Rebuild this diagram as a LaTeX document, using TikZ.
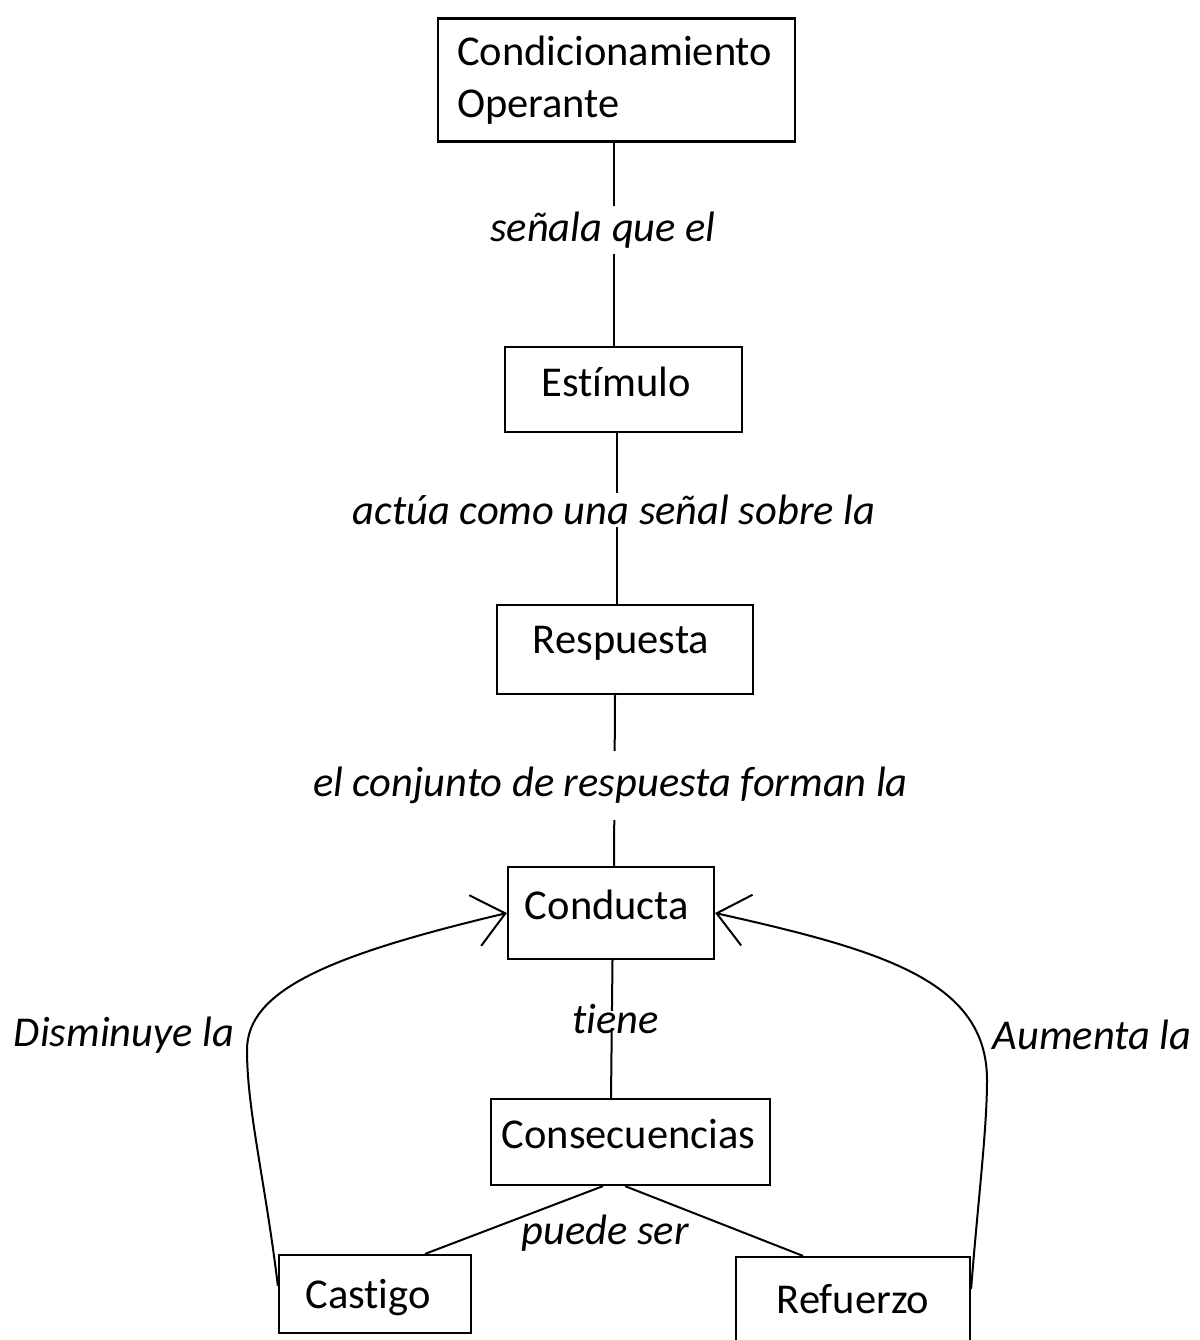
\documentclass[tikz,border=0pt]{standalone}
\usepackage{fontspec}
\setmainfont{Carlito}[Ligatures=NoCommon]
\usetikzlibrary{positioning}
\usetikzlibrary{arrows.meta}

\begin{document}
\begin{tikzpicture}[
  concepto/.style={draw=black, line width=2.2pt, inner sep=0pt},
  simple/.style={concepto, text height=31pt, text depth=18pt},
  etiqueta/.style={font=\itshape, fill=white, inner xsep=1pt, inner ysep=2pt},
  enlace/.style={line width=2pt, color=black},
  flecha/.style={line width=2pt, color=black, -{Straight Barb[length=31pt, width=52pt, line width=2pt]}}
]
\fontsize{42.5pt}{52pt}\selectfont
\useasboundingbox (0pt, 0pt) rectangle (1199pt, -1340pt);
% conceptos
\node (condicionamiento) [concepto, minimum width=357pt, minimum height=123pt, text width=319pt, align=left] at (616.5pt, -80pt) {Condicionamiento\\Operante};
\node (estimulo) [simple, minimum width=237pt, minimum height=85pt] at (623.5pt, -389.5pt) {\hspace*{-14pt}Estímulo};
\node (respuesta) [simple, minimum width=256pt, minimum height=89pt, text height=27pt, text depth=20pt] at (625pt, -649.5pt) {\hspace*{-8pt}Respuesta};
\node (conducta) [simple, minimum width=206pt, minimum height=92pt] at (611pt, -913pt) {\hspace*{-8pt}Conducta};
\node (consecuencias) [simple, minimum width=279pt, minimum height=86pt] at (630.5pt, -1142pt) {\hspace*{-4pt}Consecuencias};
\node (castigo) [simple, minimum width=192pt, minimum height=78pt, text height=40pt, text depth=12pt] at (375pt, -1294pt) {\hspace*{-14pt}Castigo};
\node (refuerzo) [simple, minimum width=234pt, minimum height=88pt, text height=40pt, text depth=16pt] at (853pt, -1301pt) {Refuerzo};
% enlaces
\draw [enlace] ([xshift=-2.5pt]condicionamiento.south) -- node[etiqueta, pos=0.43, xshift=-11pt, inner ysep=6pt] (senala) {señala que el} ([xshift=-9.5pt]estimulo.north);
\draw [enlace] ([xshift=-6.5pt]estimulo.south) -- node[etiqueta, pos=0.45, xshift=-3pt] (actua) {actúa como una señal sobre la} ([xshift=-8pt]respuesta.north);
\draw [enlace] ([xshift=-10pt]respuesta.south) -- node[etiqueta, pos=0.53, xshift=-4pt, inner ysep=16pt] (forman) {el conjunto de respuesta forman la} ([xshift=3pt]conducta.north);
\draw [enlace] ([xshift=1.5pt]conducta.south) -- node[etiqueta, pos=0.43, xshift=4pt, inner ysep=-6pt] (tiene) {tiene} ([xshift=-19.5pt]consecuencias.north);
\draw [enlace] ([xshift=-27.5pt]consecuencias.south) -- ([xshift=50pt]castigo.north);
\draw [enlace] ([xshift=-5.5pt]consecuencias.south) -- ([xshift=-50pt]refuerzo.north);
\node (puede) [etiqueta, fill=none] at (605pt, -1233pt) {puede ser};
% efectos sobre la conducta
\draw [flecha] ([yshift=8pt]castigo.west) .. controls (265pt, -1180pt) and (247pt, -1110pt) .. (247pt, -1050pt) .. controls (247pt, -990pt) and (330pt, -955pt) .. (conducta.west);
\draw [flecha] ([yshift=12pt]refuerzo.east) .. controls (978pt, -1200pt) and (987pt, -1130pt) .. (987pt, -1080pt) .. controls (987pt, -980pt) and (880pt, -950pt) .. (conducta.east);
\node (disminuye) [etiqueta, fill=none] at (124pt, -1035pt) {Disminuye la};
\node (aumenta) [etiqueta, fill=none] at (1092pt, -1035pt) {Aumenta la};
\end{tikzpicture}
\end{document}
